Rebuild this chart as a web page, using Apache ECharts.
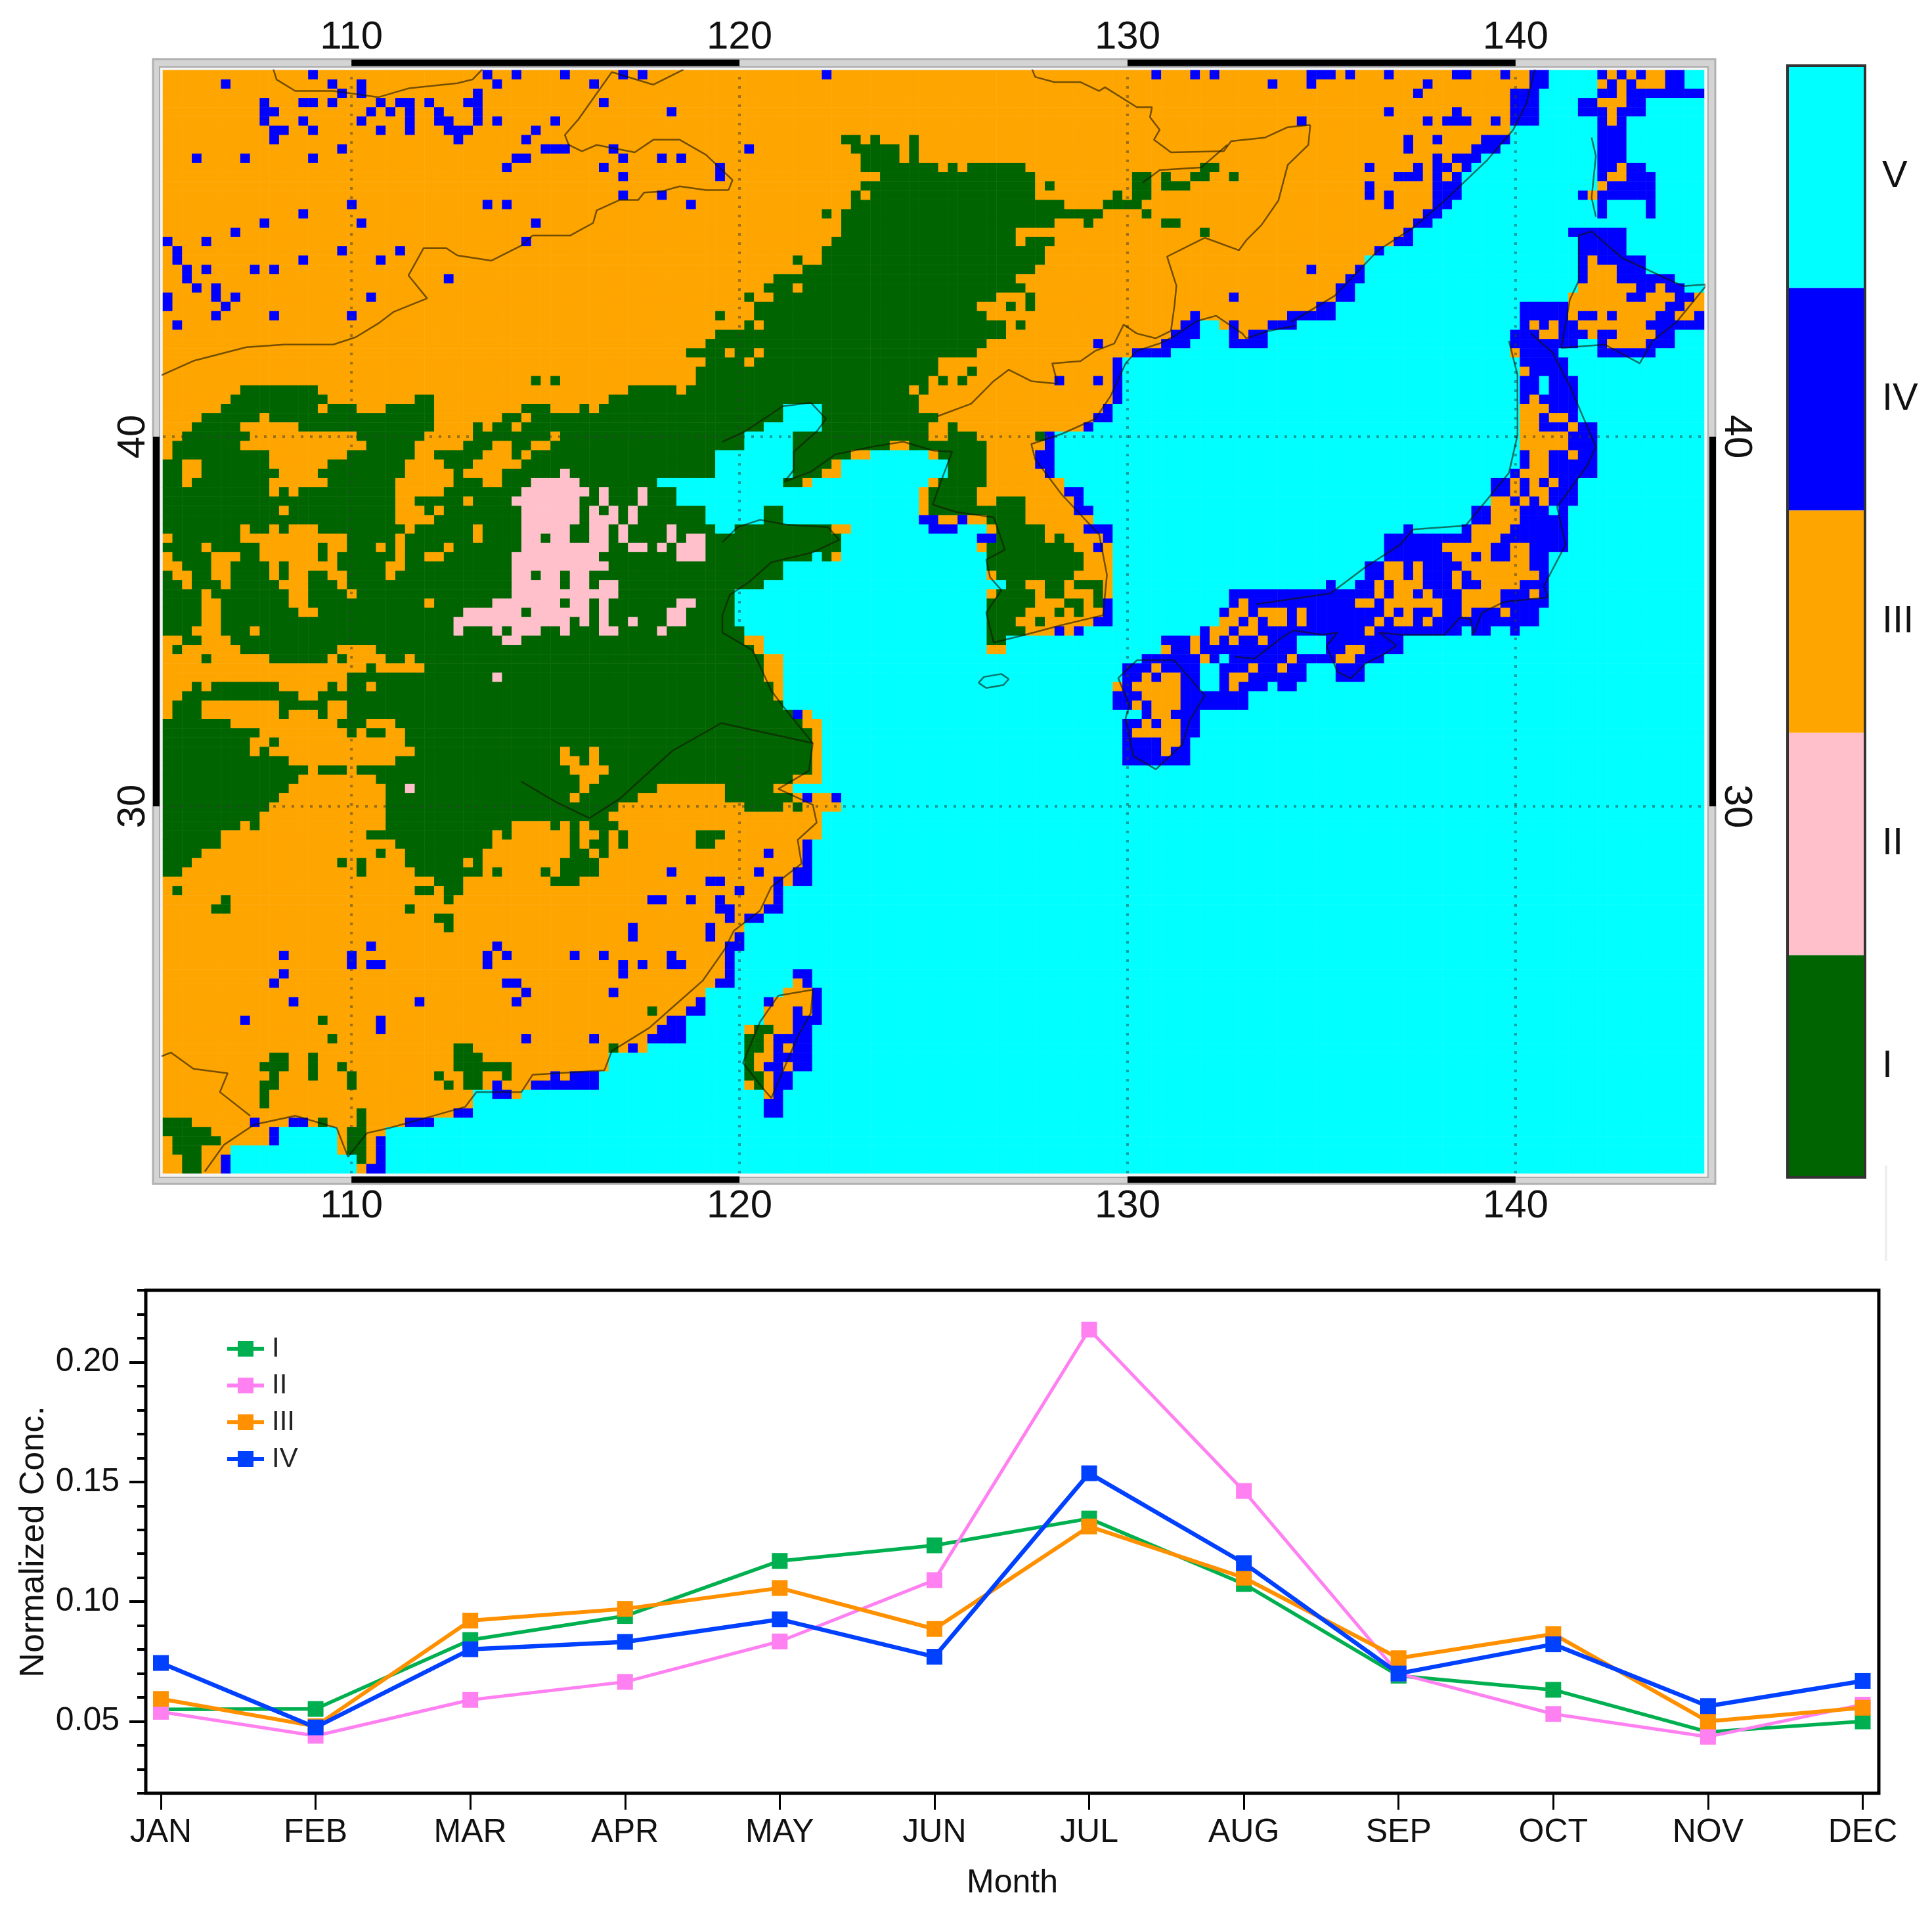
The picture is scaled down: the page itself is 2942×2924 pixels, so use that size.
<!DOCTYPE html>
<html>
<head>
<meta charset="utf-8">
<title>Regions and monthly normalized concentration</title>
<script src="https://cdn.jsdelivr.net/npm/echarts@6/dist/echarts.min.js"></script>
<style>
html, body { margin: 0; padding: 0; background: #fff; }
#main { width: 2942px; height: 2924px; }
</style>
</head>
<body>
<div id="main"></div>
<script>
// region grid, one string per row from the top. letter = region, then columns; later tokens paint over earlier ones, anything unpainted is V
var mapRows = [
"O0-142 B15,33,36,41,47,49,68,102,106,108,118-120,122,126,133,134,138,141,142,148 O149 B150 O151 B152 O153,154 B155,156",
"O0-142 B6,17,20,34,44,114,118,130,141,142 O148 B149 O150 B151 O152-154 B155,156",
"O0-138 B18,20,32,129,139-141,148,149 O150 B151-158",
"O0-138 B10,14,15,17,22,24,25,27,31,32,45,139-141,146,147 O148-150 B151,152",
"O0-138 B10,11,21,23,25,28,32,52,126,133,139-141,146-148 O149 B150-152",
"O0-138 B10,14,20,25,28,29,32,34,40,117,130,132-134,137,139-141,148 O149 B150",
"O0-138 B11,12,15,22,25,29-31,38,148-150",
"O0-135 B11,30,37 G70,71,73,77 B128,131,136-138,148-150",
"O0-134 B18,39-41,46,60 G71-75,77 B128,135-137,148-150",
"O0-132 B3,8,15,36,37,47,51,53 G72-75,77 B131,133-135,148-150",
"O0-133 B35,45,57 G72-79,81,83-88,107,108 B124,129,131,132,134,148,149 O150 B151,152",
"O0-133 B47,57 G74-89,100,101,103,106,107,110 B127-129,131,133,148 O149,150 B151-153",
"O0-133 G72-89,91,100,101,103-105 B124,131-133 O148 B149-153",
"O0-133 B47,51 G71,73-89,98,100,101 B124,126,131-133,146 O147 B148-153",
"O0-132 B19,33,35,54 G71-92,97-100 B126,131,132,148,153",
"O0-131 B14 G68,70-96,101 B130,131,148,153",
"O0-130 B10,20,38 G70-91,95,103,104 B129,130",
"O0-128 B7 G70-87,107 B128,145-150",
"O0-128 B0,4,37 G69-87,89-91 B127,128,146-150",
"O0-124 B1,18,24 G68-90 B125,146-150",
"O0-123 B1,14,22 G65,68-90 B146 O147 B148-152",
"O0-122 B2,4,9,11,118 G66-89 B123,146 O147-149 B150-152",
"O0-121 B2,29 G63-87 B122,123,146 O147-149 B150-155",
"O0-120 B3,5 G62-64,66-88 B121,122 O146-151 B152,153 O154 B155,156",
"O0-120 B0,5,7,21,110 G60,63-85,89 B121,122 O145-150 B151,152 O153-155 B156,157 O158",
"O0-118 B0,6 G61-83,87,89 B119,120,140-144 O145-154 B155,156 O157,158",
"O0-115 B5,11,19,106 G57,61-84 B116-120,140-144 O145 B146,147 O148 B149 O150-153 B154,155 O156,157 B158",
"O0-113 B1,105,106 C107,108 B110 G60,62-86,88 B114-116,140 O141 B142 O143 B144,145 O146-152 B153-158",
"O0-103 G57-86 B104-106,110 O111 B112,113,139-141 O142,143 B144-146 O147 B148,149 O150-153 B154,155",
"O0-102 G56-84 B96,103-105,110-113,139-145,148 O149-152 B153-155",
"O0-99 G54-57,59,60,62-83 B100-103 O139 B140-143,148-153",
"O0-97 G56-59,61-79 B98,140-144",
"O0-97 G55-79,83 B98 O140 B141-144",
"O0-97 G38,40,55-78,80,82 B92,96,98,140,141,143-145",
"O0-97 G8-15,48-52,54-76,78 B98,140,141,143-145",
"O0-97 G7-16,26,27,46-77 B98,140 O141 B142-145",
"O0-96 G6-15,17-19,23-27,37-39,43,45-77 C64-67 B97 O140-142 B143-145",
"O0-95 G4-9,11-27,35,36,38-79 C64-67 B96,97 O140,141 B142 O143,144 B145",
"O0-94 G3-7,14-27,32,34,35,37-78,81 C62-67 B95 O140,141 B142-144 O145 B146,147",
"O0-89 G2-8,20-26,32-39,41-59,65-78,81-83 C60-64 G90 B91 O140-144 B145-147",
"O0-90 G1-7,21-25,31-33,36,37,40-59,65-74,77-84 C60-64 B91 O140-144 B145-147",
"O0-89 G1-10,19-25,28-32,36,38-56,65-70,80-84 C57-64,73-78 B90,91,140 O141,142 B143,144 O145 B146,147",
"O0-89 G0,1,4-10,17-24,29-31,37-56,65-68,81-84 C57-64,70-80 B90,91,140 O141,142 B143-147",
"O0-90 P41 G0,1,4-11,16-24,30,35-40,42-56,65-67,81-84 C57-64,70-80 B91,139 O140-142 B143-147",
"O0-92 G0,1,3-10,17-23,30-32,35-37,43-50,64,65,80-84 P38-42 C51-63,67-78 B137,138 O139 B140 O141 B142 O143 B144,145",
"O0-92 G0-10,12,14-23,29-36,44,46-48,50-52,79-83 P37-43,45,49 C53-77 B93,94,137,138 O139 B140 O141,142 B143-145",
"O0-93 G0-23,26-30,32-35,43,44,46-48,50-52,79-83,86-88 P36-42,45,49 C53-77 B94 O137,138 B139 O140 B141 O142 B143-145",
"O0-93 G0-11,13-23,27,29-36,43,45,47,49-55,62,63,79-88 P37-42,44,46,48 C56-61,64-77 B94,95,135,136 O137-139 B140-142,144",
"O0-95 G0-23,28-36,43,47,49-55,62,63,85-88 P37-42,44-46,48 C56-61,64-77 B78,79,82,135,136 O137-139 B140-144",
"O0-94 G0-7,9,10,12,16-24,26-31,33-36,42,43,46,48-51,53-56,59-68,86-90 P37-41,44,45,47,52 C57,58,71-78,82-84 B79-81,95-97,128,134 O135-138 B139-144",
"O0-96 G1-7,19-23,25-31,33-36,39,42,43,46,48-51,53,56-69,86-90,92 P37,38,40,41,44,45,47,52,54,55 C70-83 B84,85,97,126-134 O135-137 B138-144",
"O0-97 G0-3,5-9,16,19-21,23,25-28,30-36,46,47,50,52,56-69,85-93 P37-45,48,49,51,53-55 C70-83 B96,126-131 O132-136 B137,138 O139,140 B141-144",
"O0-97 G1-4,8,9,16,18-23,25,26,29-35,45-52,56-66,68,85-94 P36-44,53-55 C67,70-84 B126-132 O133,134 B135 O136 B137,138 O139,140 B141,142",
"O0-97 G2-4,7-10,12,18-22,25-35,46-63,85-94 P36-45 C64-84 B124,125 O126,127 B128 O129 B130-133 O134-140 B141,142",
"O0-97 G0,3,4,7-10,12,15,16,19-22,24-35,38,41,44-63,86-93 P36,37,39,40,42,43 C64-84 B124,125 O126,127 B128 O129 B130-132 O133 B134 O135-141 B142",
"O0-97 G0,1,3-5,7-11,15-17,19-35,41,44,47-61,87,88,91,92,94-96 P36-40,42,43,45,46 C62-86 B120,123,124 O125 B126 O127-129 B130-132 O133 B134,135 O136-139 B140-142",
"O0-97 G0-3,5-12,15-18,20-35,47-58,86-89,91,92,96 P36-46 C59-84 B110-124 O125 B126 O127,128 B129 O130 B131-133 O134-137 B138-140 O141 B142",
"O0-97 G0-3,6-12,15-26,28-33,41,44,46-52,55-58,85-89,93,94,96 P34-40,42,43,45,53,54 C59-84 B97,110 O111 B112-122 O123,124 B125 O126-131 B132,133 O134-137 B138-142",
"O0-96 G0-3,6-13,16-30,37,44,46-51,54-58,85-88,92,94 P31-36,38-43,45,52,53 C59-84 B97,109 O110,111 B112 O113-115 B116 O117 B118-125 O126 B127 O128 B129,130 O131 B132,133 O134 B135-137 O138 B139-141",
"O0-95 G0-3,6-29,42,44,46,47,49-51,54-58,85-87,90 P30-41,43,45,48,52,53 C59-84 B96,97 O109,110 B111 O112 B113 O114,115 B116 O117 B118-124 O125 B126 O127,128 B129 O130 B131-141",
"O0-93 G0-2,6-8,10-29,31-33,35,39,40,42-44,47-50,52-59,85-88 P30,34,36-38,41,45,46,51 C60-84 B92,94,107 O108,109 B110 O111,112 B113-123 O124 B125-133,135,136,139",
"G0-59 O0,1,4-6,60,61 P35,36 G85,86 B103-105 O106 B107 O108 B109 O110 B111,112 O113 B114-116,120-127",
"G0-60 O0,2-7,18-21,61,85,86,103 B104,105 O106 B107-116,120,121 O122,123 B124-127",
"G0-61 O0-3,5-10,17,19-22,25,62,63 B101-106 O107 B108,110-115 O116 B117-120 O121,122 B123-125",
"G0-61 O0-20,22-26,62,63 B99-101 O102 B103-106,109-111 O112 B113,114 O115 B116,117,121-123",
"G0-61 O0-18,62,63 P34 B99,100 O101 B102 O103,104 B105,106,109 O110,111 B112-117,121-123",
"G0-62 O0-2,4,12-16,18,21,63,98 B99 O100-104 B105,106,109 O110 B111-113,115,116",
"G0-62 O0,1,14,15,63 B98-100 O101-104 B105-111",
"G0-63 O0,4-11,17,18 B98,99 O100 B101 O102-104 B105-111",
"G0-64 O0,4-11,13-15,17,18,66 B65,101 O102,103 B104-106",
"G0-65 O7-17,21-23,66,67 B99,100 O101 B102 O103,104 B105,106",
"G0-66 O10-18,20,23,24,67 B99 O100-104 B105,106",
"G0-66 O9,10,12-24,67 B99-102 O103,104 B105",
"G0-66 O9,11-25,41,44,67 B99-102 O103 B104,105",
"G0-66 O13-23,41,42,44,67 B99-105",
"G0-66 O15,19,42-45,67",
"G0-64 O14-21,43,44,65-67",
"G0-62 O13-22,43,51-57,63,64 P25",
"G0-64 O12-22,42,49-57,65,67,68 B66,69",
"G0-46 O11-22,47-59 G60-63 O64 G65 O66-69",
"G0-45 O10-22,46-67",
"G0-46 O8,10-22,36-39,41,43,47-67",
"O0-67 G0-5,21-33,35,42,45,47,55-57",
"O0-65 G0-5,24-33,42,44,45,47,55,56 B66",
"O0-65 G0-3,22,25-32,42,43,45 B62,66",
"O0-65 G0-2,18,20,25-30,32,41-44 B66",
"O0-64 G0,1,20,26-32,34,39,41-44 B52,61,65,66",
"O0-64 G28-30,40-42 B56,57,63,65,66",
"O0-62 G1,26,27,29,30 B59,63",
"O0-62 G6,29 B50,51,54,57,63",
"O0-61 G5,6,25 B57,58,62,63",
"O0-59 G28,29 B58,60,61",
"O0-59 G29 B48,56",
"O0-58 B48,56,59",
"O0-57 B21,34,58,59",
"O0-57 B12,19,33,35,42,45,52,58",
"O0-57 B19,21,22,33,47,49,52,53,58",
"O0-57 B12,47,58,65,66",
"O0-56 B11,35,36,57,58 O65 B66",
"O0-55 B37,46 O64-66 B67",
"O0-54 B13,26,36,55,62 O63-66 B67",
"O0-53 G50 B54,55 O62-64 B65 O66 B67",
"O0-51 B8,22,52,53 G16 O62-64 B65-67",
"O0-50 B22,51-53 O60 G61,62 O63,64 B65,66",
"O0-49 G17 B37,44,50-53 G60,61 O62 B63-66",
"O0-49 G30,31,46 B48 G60,61 O62 B63 O64 B65,66",
"O0-45 G11,12,15,30-32,60 O61,62 B63-66",
"O0-45 G10-12,15,18,30-35,60 O61 B62,63 O64 B65,66",
"O0-44 G11,15,19,28,31,32,35,60,61 B40,42-44 O62 B63,64",
"O0-44 G10,11,19,29,31,32,61 B34,38-44 O60,62 B63,64",
"O0-31 G10 B34,35 O36,62 B63",
"O0-31 G10 B62,63",
"O0-31 G20 B30,31,62,63",
"O0-27 G0-2,16,20 B9,13,14,25-27",
"O0-22 G0-4,19,20 B11 C12-17",
"O0-22 G1-5,19,20 B11,22 C12-17",
"O0-22 G1-3,19,20 B22 C7-17",
"O0-22 G2,3,20 B6,22 C7-19",
"O0-22 G2,3 B6,21,22 C7-19"
];
var mapCols = 159;

var regionNames = ['I', 'II', 'III', 'IV', 'V'];
var regionColors = ['#006400', '#ffc0cb', '#ffa500', '#0000ff', '#00ffff'];
var regionCodes = {G: 1, P: 2, O: 3, B: 4, C: 5};
var colorbarValues = [1, 1, 1, 1, 1];

var lonTicks = [110, 120, 130, 140];
var latTicks = [30, 40];

// outlines, [lon, lat] as they sit on the plot
var borderMongoliaS = [[105.06,41.64],[105.93,42.05],[107.29,42.42],[108.26,42.49],[109.53,42.49],[110.11,42.69],[110.69,43.06],[111.08,43.37],[111.95,43.74],[111.47,44.36],[111.86,45.1],[112.44,45.1],[112.73,44.9],[113.61,44.76],[114.38,45.17],[114.67,45.44],[115.64,45.44],[116.23,45.78],[116.32,46.12],[116.91,46.4],[117.39,46.4],[117.54,46.6],[117.98,46.63],[118.46,46.77],[119.14,46.67],[119.72,46.67]];
var borderMongoliaN = [[107.44,50.03],[107.97,50],[108.07,49.66],[108.55,49.35],[109.53,49.35],[110.69,49.18],[111.47,49.42],[112.73,49.56],[113.12,49.66],[113.46,50.03]];
var borderMongoliaE = [[118.56,49.93],[117.78,49.52],[116.71,49.86],[115.84,48.57],[115.5,48.16],[115.6,47.89],[115.94,47.72],[116.32,47.89],[117.3,47.69],[117.78,48.03],[118.46,48.03],[119.14,47.62],[119.82,46.94],[119.72,46.67]];
var borderAmur = [[127.52,50],[127.62,49.73],[128.11,49.59],[128.79,49.59],[129.27,49.35],[129.42,49.45],[130.24,48.91],[130.63,48.91],[130.58,48.64],[130.83,48.3],[130.68,48.03],[131.12,47.69],[132.48,47.72],[132.67,47.99],[133.55,48.09],[134.13,48.37],[134.71,48.43]];
var borderUssuri = [[134.71,48.43],[134.66,47.89],[134.13,47.35],[133.89,46.39],[133.45,45.72],[133.06,45.31],[132.87,45.04],[131.99,45.38],[131.02,44.87],[131.26,44.08],[131.21,43.54],[131.12,42.86],[130.73,42.66]];
var borderSongua = [[130.39,46.87],[130.83,47.21],[131.9,47.28],[132.57,47.89]];
var borderKorea = [[130.73,42.66],[130.24,42.79],[129.9,43.03],[129.66,42.52],[129.17,42.32],[128.79,42.04],[128.06,41.98],[128.2,41.43],[127.52,41.5],[126.94,41.81],[126.55,41.5],[125.97,40.89],[125.1,40.55]];
var borderVietnam = [[105.06,23.22],[105.35,23.34],[105.93,22.9],[106.81,22.78],[106.61,22.27],[107.39,21.63]];
var coastBohai = [[119.56,39.86],[120.14,40.14],[120.63,40.48],[121.11,40.82],[121.84,40.92],[122.23,40.48],[121.99,40.14],[121.4,39.59],[121.4,39.1],[121.16,38.78],[121.84,39.05],[122.47,39.52],[123.44,39.73],[124.22,39.86],[125,39.62],[125.48,39.59],[125.19,38.78],[124.98,38.16],[125.58,37.96],[126.55,37.82],[126.84,36.94],[126.36,36.67],[126.46,36.19],[126.75,35.85],[126.36,35.24],[126.55,34.43],[127.33,34.63],[128.3,34.9],[129.37,35.17],[129.47,36.26],[129.27,37.35],[128.3,38.44],[127.62,39.39],[127.52,39.8],[128.3,40.07],[129.17,40.48],[129.56,41.09],[129.95,41.98],[130.24,42.32],[130.83,42.52],[131.21,42.72],[131.8,43.13],[132.28,43.27],[132.96,42.79],[133.06,42.66],[133.64,42.86],[134.32,43]];
var coastFarEast = [[134.22,43.1],[135.34,43.81],[136.46,45.04],[137.36,45.65],[138.15,46.36],[139.27,47.48],[139.94,48.3],[140.28,49.01],[140.5,49.93]];
var coastChina = [[119.56,37.14],[119.95,37.55],[120.53,37.75],[121.21,37.62],[122.28,37.55],[122.57,37.21],[121.89,36.87],[120.82,36.6],[120.24,36.06],[119.75,35.72],[119.56,35.17],[119.56,34.7],[120.34,34.22],[120.82,33.13],[121.11,32.72],[121.89,31.71],[121.79,30.96],[121,30.47],[121.89,30.04],[121.99,29.56],[121.5,29.09],[121.6,28.45],[120.82,27.82],[120.53,27.18],[119.85,26.63],[119.63,26.15],[119.05,25.28],[118.27,24.56],[117.68,24.01],[116.71,23.38],[116.52,22.86],[114.67,22.74],[114.38,22.27],[113.22,22.27],[112.93,21.87],[112.15,21.64],[110.98,21.3],[110.4,21.16],[109.91,20.52],[109.62,21.3],[108.55,21.63],[107.49,21.39],[106.71,20.84],[106.22,20.12]];
var riverYangtze = [[114.38,30.67],[115.26,30.12],[116.13,29.68],[116.91,30.2],[118.27,31.5],[119.53,32.25],[121.89,31.71]];
var coastTaiwan = [[121.89,25.04],[121,24.88],[120.53,24.17],[120.09,23.06],[120.63,22.34],[120.82,22.11],[121.5,23.77],[121.84,24.41],[121.89,25.04]];
var coastJeju = [[126.16,33.34],[126.3,33.5],[126.75,33.58],[126.94,33.44],[126.8,33.28],[126.36,33.2],[126.16,33.34]];
var coastHokkaido = [[141.4,43.71],[141.63,44.22],[141.63,45.44],[141.96,45.55],[142.75,44.83],[144.32,44.07],[144.94,44.12],[144.15,43.1],[143.53,42.59],[143.2,41.98],[142.3,42.49],[141.18,42.4],[141.4,43.71]];
var coastSakhalin = [[141.96,48.09],[142.07,47.59],[141.96,46.46],[142.07,45.95]];
var coastHonshuW = [[139.83,42.59],[140.05,41.67],[140.05,40.04],[139.83,39.02],[139.27,38.3],[138.71,37.59],[137.36,37.49],[137.03,37.08],[136.13,36.47],[135.23,35.76],[133.32,35.47]];
var coastHonshuE = [[140.39,42.79],[140.95,42.28],[141.4,41.36],[142.07,39.73],[141.85,39.22],[141.07,38.1],[141.29,37.08],[140.73,35.96],[140.84,35.65],[139.7,35.53],[139.13,35.23],[138.91,34.64],[138.85,35.06],[138.57,35.11],[138.17,34.64],[137.05,34.64],[136.48,34.7],[136.93,34.35],[136.6,34.11],[136.14,33.87],[135.75,33.46],[135.41,33.64],[135.13,34.34],[135.41,34.7],[135.02,34.64],[134.28,34.76],[134,34.58],[133.27,33.99],[132.76,34.05]];
var coastKyushu = [[129.76,33.47],[130.24,33.95],[131.2,33.95],[131.99,33],[131.6,32.32],[131.41,31.67],[130.73,31],[130.15,31.36],[129.95,32.39],[130.05,32.72],[129.76,33.47]];

var outlineList = [borderMongoliaS, borderMongoliaN, borderMongoliaE, borderAmur, borderUssuri, borderSongua, borderKorea, borderVietnam,
    coastBohai, coastFarEast, coastChina, riverYangtze, coastTaiwan, coastJeju, coastHokkaido, coastSakhalin, coastHonshuW, coastHonshuE, coastKyushu];

// monthly panel
var months = ['JAN', 'FEB', 'MAR', 'APR', 'MAY', 'JUN', 'JUL', 'AUG', 'SEP', 'OCT', 'NOV', 'DEC'];
var concI = [0.055, 0.0552, 0.084, 0.094, 0.117, 0.1235, 0.1347, 0.1074, 0.0691, 0.0632, 0.0456, 0.05];
var concII = [0.054, 0.044, 0.059, 0.0665, 0.0834, 0.109, 0.2136, 0.1462, 0.07, 0.0531, 0.0436, 0.057];
var concIII = [0.0594, 0.048, 0.0921, 0.097, 0.1057, 0.0886, 0.1314, 0.11, 0.0764, 0.0865, 0.05, 0.0557];
var concIV = [0.0744, 0.0475, 0.0801, 0.0832, 0.0926, 0.077, 0.1536, 0.1161, 0.07, 0.0822, 0.0564, 0.0669];
var concColors = ['#00b050', '#ff80f0', '#ff9000', '#0040ff'];
var concWidths = [5.5, 5, 6, 6.5];
var concTicks = [0.05, 0.1, 0.15, 0.2];

var FONT = '"Liberation Sans", Arial, sans-serif';

var rangeList = function (str) {
    var out = [];
    str.split(',').forEach(function (part) {
        var ends = part.split('-');
        var from = +ends[0];
        var to = ends.length > 1 ? +ends[1] : from;
        for (var i = from; i <= to; i++) {
            out.push(i);
        }
    });
    return out;
};

var buildCells = function () {
    var cells = [];
    for (var r = 0; r < mapRows.length; r++) {
        var row = [];
        for (var c = 0; c < mapCols; c++) {
            row.push(regionCodes.C);
        }
        mapRows[r].split(' ').forEach(function (token) {
            var code = regionCodes[token.charAt(0)];
            rangeList(token.slice(1)).forEach(function (col) {
                row[col] = code;
            });
        });
        for (c = 0; c < mapCols; c++) {
            cells.push([c, r, row[c]]);
        }
    }
    return cells;
};

var indexList = function (n) {
    var out = [];
    for (var i = 0; i < n; i++) {
        out.push(i);
    }
    return out;
};

var LON_MIN = 105.14, LON_MAX = 144.86, LAT_MIN = 20.07, LAT_MAX = 49.91;
var FRAME_W = 104.97, FRAME_E = 145.08, FRAME_N = 50.11, FRAME_S = 19.9;

// black bars of the frame: lon1, lat1, lon2, lat2
var frameBars = [
    [110, FRAME_N, 120, FRAME_N], [130, FRAME_N, 140, FRAME_N],
    [110, FRAME_S, 120, FRAME_S], [130, FRAME_S, 140, FRAME_S],
    [FRAME_W, 30, FRAME_W, 40], [FRAME_E, 30, FRAME_E, 40]
];

var mapLine = function (points, line) {
    return {
        type: 'line', xAxisIndex: 1, yAxisIndex: 1, data: points, symbol: 'none', silent: true, z: 4,
        clip: true, lineStyle: line
    };
};

var series = [{
    type: 'heatmap', xAxisIndex: 0, yAxisIndex: 0, data: buildCells(), progressive: 0, silent: true, z: 1
}];

// dotted graticule
lonTicks.forEach(function (lon) {
    series.push(mapLine([[lon, LAT_MIN], [lon, LAT_MAX]], {color: 'rgba(50,60,60,0.5)', width: 4, type: [4, 10]}));
});
latTicks.forEach(function (lat) {
    series.push(mapLine([[LON_MIN, lat], [LON_MAX, lat]], {color: 'rgba(50,60,60,0.5)', width: 4, type: [4, 10]}));
});

outlineList.forEach(function (points) {
    series.push(mapLine(points, {color: 'rgba(20,20,0,0.6)', width: 2.5}));
});

series.push({
    type: 'custom', xAxisIndex: 1, yAxisIndex: 1, data: frameBars, clip: false, silent: true, z: 4,
    renderItem: function (params, api) {
        var p1 = api.coord([api.value(0), api.value(1)]);
        var p2 = api.coord([api.value(2), api.value(3)]);
        return {
            type: 'line',
            shape: {x1: p1[0], y1: p1[1], x2: p2[0], y2: p2[1]},
            style: {stroke: '#000', lineWidth: 10, fill: null}
        };
    }
});

series.push({
    type: 'bar', xAxisIndex: 3, yAxisIndex: 3, barWidth: '100%', silent: true, z: 1,
    data: colorbarValues.map(function (v, i) {
        return {value: v, itemStyle: {color: regionColors[i]}};
    })
});

[concI, concII, concIII, concIV].forEach(function (values, i) {
    series.push({
        type: 'line', name: regionNames[i], xAxisIndex: 4, yAxisIndex: 5, symbol: 'rect', symbolSize: 24,
        silent: true, z: 5 + i,
        data: values.map(function (v, m) { return [m, v]; }),
        lineStyle: {color: concColors[i], width: concWidths[i]},
        itemStyle: {color: concColors[i]}
    });
});

var chart = echarts.init(document.getElementById('main'));
chart.setOption({
    animation: false,
    backgroundColor: '#fff',
    textStyle: {fontFamily: FONT, color: '#000'},
    visualMap: {
        show: false, type: 'piecewise', seriesIndex: 0, dimension: 2,
        pieces: regionColors.map(function (color, i) {
            return {value: i + 1, color: color};
        })
    },
    graphic: [
        {type: 'rect', z: 0, shape: {x: 233, y: 90, width: 2379, height: 1713}, style: {fill: '#d4d4d4', stroke: '#b0b0b0', lineWidth: 3}},
        {type: 'rect', z: 0, shape: {x: 243, y: 102, width: 2358, height: 1691}, style: {fill: '#f4f4f4', stroke: '#aaaaaa', lineWidth: 2}},
        {type: 'rect', z: 20, shape: {x: 2722, y: 100, width: 118, height: 1693}, style: {fill: null, stroke: '#333', lineWidth: 4}},
        {type: 'line', z: 0, shape: {x1: 2872, y1: 1775, x2: 2872, y2: 1920}, style: {stroke: '#eeeeee', lineWidth: 4}}
    ],
    legend: {
        data: regionNames.slice(0, 4), left: 338, top: 2028, orient: 'vertical', selectedMode: false,
        itemWidth: 56, itemHeight: 30, itemGap: 14,
        lineStyle: {width: 6},
        textStyle: {fontFamily: FONT, fontSize: 42, lineHeight: 42, color: '#222', padding: [0, 0, 0, 7]}
    },
    grid: [
        {left: 248, top: 107, width: 2347, height: 1680},
        {left: 2722, top: 100, width: 118, height: 1693},
        {left: 222, top: 1965, width: 2639, height: 766, show: true, borderColor: '#000', borderWidth: 5}
    ],
    xAxis: [
        {type: 'category', gridIndex: 0, data: indexList(mapCols), show: false},
        {
            type: 'value', gridIndex: 0, min: LON_MIN, max: LON_MAX, position: 'bottom',
            axisLine: {show: false}, splitLine: {show: false}, axisTick: {show: false},
            axisLabel: {customValues: lonTicks, fontSize: 60, margin: 20, color: '#111'}
        },
        {
            type: 'value', gridIndex: 0, min: LON_MIN, max: LON_MAX, position: 'top',
            axisLine: {show: false}, splitLine: {show: false}, axisTick: {show: false},
            axisLabel: {customValues: lonTicks, fontSize: 60, margin: 20, color: '#111'}
        },
        {type: 'value', gridIndex: 1, min: 0, max: 1, show: false},
        {
            type: 'value', gridIndex: 2, min: -0.0976, max: 11.104, position: 'bottom',
            name: 'Month', nameLocation: 'middle', nameGap: 112, nameMoveOverlap: false,
            nameTextStyle: {fontFamily: FONT, fontSize: 50, color: '#111'},
            axisLine: {show: false, onZero: false}, splitLine: {show: false},
            axisTick: {customValues: indexList(12), length: 25, lineStyle: {color: '#000', width: 3}},
            axisLabel: {
                customValues: indexList(12), fontSize: 50, margin: 35, color: '#111',
                formatter: function (v) { return months[v]; }
            }
        }
    ],
    yAxis: [
        {type: 'category', gridIndex: 0, data: indexList(mapRows.length), inverse: true, show: false},
        {
            type: 'value', gridIndex: 0, min: LAT_MIN, max: LAT_MAX, position: 'left',
            axisLine: {show: false}, splitLine: {show: false}, axisTick: {show: false},
            axisLabel: {customValues: latTicks, fontSize: 60, margin: 15, rotate: 90, color: '#111'}
        },
        {
            type: 'value', gridIndex: 0, min: LAT_MIN, max: LAT_MAX, position: 'right',
            axisLine: {show: false}, splitLine: {show: false}, axisTick: {show: false},
            axisLabel: {customValues: latTicks, fontSize: 60, margin: 19, rotate: -90, color: '#111'}
        },
        {
            type: 'category', gridIndex: 1, data: regionNames, position: 'right', z: 10,
            axisLine: {show: false}, splitLine: {show: false},
            axisTick: {alignWithLabel: true, inside: true, length: 15, lineStyle: {color: '#000', width: 2}},
            axisLabel: {fontSize: 58, margin: 26, color: '#111', align: 'left'}
        },
        {
            type: 'category', gridIndex: 1, data: regionNames, position: 'right', z: 10,
            axisLine: {show: false}, splitLine: {show: false}, axisLabel: {show: false},
            axisTick: {alignWithLabel: false, inside: true, length: 28, lineStyle: {color: '#000', width: 2}}
        },
        {
            type: 'value', gridIndex: 2, min: 0.02, max: 0.23, interval: 0.01, position: 'left',
            axisLine: {show: false, onZero: false}, splitLine: {show: false}, axisLabel: {show: false},
            axisTick: {length: 13, lineStyle: {color: '#000', width: 4}}
        },
        {
            type: 'value', gridIndex: 2, min: 0.02, max: 0.23, position: 'left',
            name: 'Normalized Conc.', nameLocation: 'middle', nameGap: 144, nameMoveOverlap: false,
            nameTextStyle: {fontFamily: FONT, fontSize: 52, color: '#111'},
            axisLine: {show: false, onZero: false}, splitLine: {show: false},
            axisTick: {customValues: concTicks, length: 25, lineStyle: {color: '#000', width: 4}},
            axisLabel: {
                customValues: concTicks, fontSize: 50, margin: 40, color: '#111',
                formatter: function (v) { return v.toFixed(2); }
            }
        }
    ],
    series: series
});
</script>
</body>
</html>
